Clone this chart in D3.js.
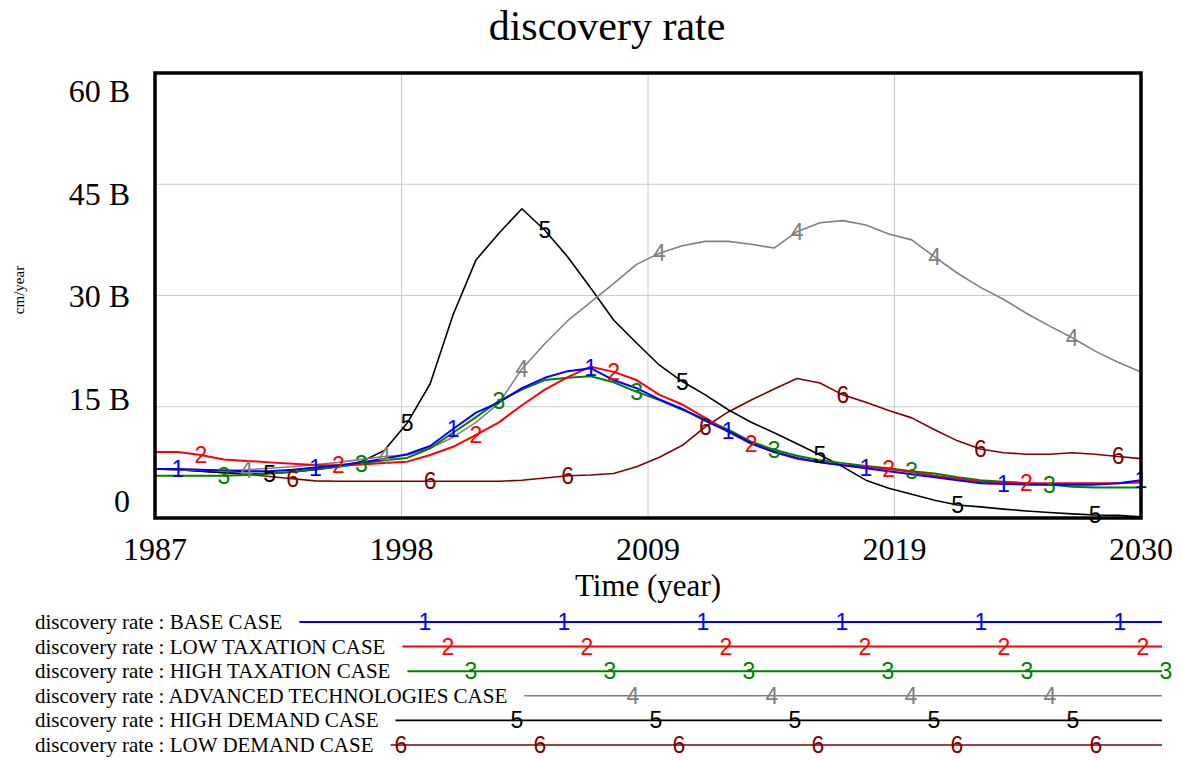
<!DOCTYPE html>
<html>
<head>
<meta charset="utf-8">
<style>
  body {
    margin: 0px;
    background-color: white;
  }
  svg {
    display: block;
  }
  text {
    font-family: "Liberation Serif", "Times New Roman", serif;
    fill: black;
  }
  text.mark {
    font-family: "Liberation Sans", Arial, sans-serif;
  }
</style>
<script src="https://cdn.jsdelivr.net/npm/d3@7"></script>
</head>
<body>
<svg></svg>
<script>
// data, in billions of cm/year, one value per year
const years = [1987, 1988, 1989, 1990, 1991, 1992, 1993, 1994, 1995, 1996,
  1997, 1998, 1999, 2000, 2001, 2002, 2003, 2004, 2005, 2006,
  2007, 2008, 2009, 2010, 2011, 2012, 2013, 2014, 2015, 2016,
  2017, 2018, 2019, 2020, 2021, 2022, 2023, 2024, 2025, 2026,
  2027, 2028, 2029, 2030];

const baseCase = [6.6, 6.6, 6.5, 6.4, 6.3, 6.3, 6.5, 6.8, 7.1, 7.5,
  8.0, 8.6, 9.7, 12.0, 14.2, 15.6, 17.5, 18.9, 19.8, 20.2,
  18.6, 17.5, 16.0, 14.7, 13.1, 11.7, 10.1, 8.9, 8.1, 7.5,
  7.1, 6.7, 6.3, 5.9, 5.5, 5.1, 4.7, 4.6, 4.5, 4.5,
  4.5, 4.5, 4.7, 5.1];
const lowTaxation = [8.9, 8.9, 8.5, 7.9, 7.7, 7.5, 7.3, 7.15, 7.1, 7.2,
  7.4, 7.6, 8.5, 9.6, 11.2, 12.9, 15.2, 17.3, 19.0, 20.4,
  19.7, 18.6, 16.6, 15.3, 13.5, 11.6, 10.0, 8.9, 8.0, 7.5,
  7.1, 6.9, 6.6, 6.2, 5.7, 5.3, 4.9, 4.8, 4.7, 4.7,
  4.7, 4.7, 4.7, 4.8];
const highTaxation = [5.7, 5.7, 5.7, 5.7, 5.8, 6.0, 6.2, 6.6, 6.9, 7.3,
  7.8, 8.1, 9.4, 11.5, 13.6, 15.8, 17.3, 18.6, 18.9, 19.1,
  18.3, 17.0, 15.9, 14.6, 13.3, 11.9, 10.3, 9.2, 8.4, 7.8,
  7.4, 7.0, 6.7, 6.3, 6.0, 5.5, 5.1, 4.9, 4.7, 4.5,
  4.2, 4.1, 4.1, 4.1];
const advancedTech = [6.6, 6.5, 6.4, 6.4, 6.5, 6.7, 6.9, 7.2, 7.5, 7.9,
  8.3, 8.5, 9.4, 10.9, 12.9, 15.5, 20.1, 23.5, 26.6, 29.1,
  31.6, 34.2, 35.7, 36.7, 37.3, 37.3, 36.9, 36.4, 38.6, 39.8,
  40.1, 39.5, 38.3, 37.5, 35.2, 33.0, 31.1, 29.5, 27.6, 25.9,
  24.3, 22.5, 21.0, 19.7];
const highDemand = [6.6, 6.5, 6.3, 6.1, 6.0, 6.0, 6.2, 6.5, 6.9, 7.6,
  9.1, 12.8, 18.1, 27.4, 34.8, 38.4, 41.7, 38.8, 35.2, 31.0,
  26.7, 23.6, 20.6, 18.4, 16.6, 14.6, 12.9, 11.5, 10.0, 8.5,
  6.9, 5.1, 4.0, 3.2, 2.4, 1.75, 1.5, 1.2, 0.95, 0.75,
  0.55, 0.4, 0.35, 0.15];
const lowDemand = [6.6, 6.5, 6.3, 6.1, 5.9, 5.6, 5.3, 5.0, 4.95, 4.95,
  4.95, 4.95, 4.95, 4.95, 4.95, 4.95, 5.1, 5.4, 5.7, 5.8,
  6.0, 6.9, 8.2, 9.8, 12.3, 14.3, 15.9, 17.4, 18.8, 18.2,
  16.6, 15.6, 14.5, 13.5, 11.9, 10.4, 9.3, 8.8, 8.6, 8.6,
  8.8, 8.6, 8.3, 8.0];

const seriesNames = ["BASE CASE", "LOW TAXATION CASE", "HIGH TAXATION CASE",
  "ADVANCED TECHNOLOGIES CASE", "HIGH DEMAND CASE", "LOW DEMAND CASE"];
const seriesValues = [baseCase, lowTaxation, highTaxation, advancedTech, highDemand, lowDemand];
const seriesColors = ["#0000ff", "#ff0000", "#008000", "#808080", "#000000", "#800000"];
const seriesWidths = [2, 2, 2, 1.6, 1.6, 1.6];

const xTickLabels = ["1987", "1998", "2009", "2019", "2030"];
const yTickLabels = ["60 B", "45 B", "30 B", "15 B", "0"];

const width = 1182, height = 760;
const plotLeft = 155, plotRight = 1141, plotTop = 73, plotBottom = 518;

const svg = d3.select("svg")
    .attr("width", width)
    .attr("height", height);

const x = d3.scaleLinear().domain([1987, 2030]).range([plotLeft, plotRight]);
const y = d3.scaleLinear().domain([0, 60]).range([plotBottom, plotTop]);

// grid: 4 equal intervals on both axes
const xGrid = d3.scaleLinear().domain([0, 4]).range([plotLeft, plotRight]);
const yGrid = d3.scaleLinear().domain([0, 4]).range([plotBottom, plotTop]);

svg.append("g").selectAll("line").data([1, 2, 3]).join("line")
    .attr("x1", d => xGrid(d)).attr("x2", d => xGrid(d))
    .attr("y1", plotTop).attr("y2", plotBottom)
    .attr("stroke", "#cccccc").attr("stroke-width", 1);
svg.append("g").selectAll("line").data([1, 2, 3]).join("line")
    .attr("y1", d => yGrid(d)).attr("y2", d => yGrid(d))
    .attr("x1", plotLeft).attr("x2", plotRight)
    .attr("stroke", "#cccccc").attr("stroke-width", 1);

// series lines
const line = d3.line()
    .x((d, i) => x(years[i]))
    .y(d => y(d));

const order = [5, 4, 3, 2, 1, 0];
order.forEach(function(s) {
  svg.append("path")
      .datum(seriesValues[s])
      .attr("d", line)
      .attr("fill", "none")
      .attr("stroke", seriesColors[s])
      .attr("stroke-width", seriesWidths[s])
      .attr("stroke-linejoin", "round");
});

// number markers every 6 years, offset by one year per series
order.forEach(function(s) {
  const marks = years.map((yr, i) => ({yr: yr, v: seriesValues[s][i]}))
      .filter(d => d.yr >= 1988 + s && (d.yr - 1988 - s) % 6 === 0);
  svg.append("g").selectAll("text").data(marks).join("text")
      .attr("class", "mark")
      .attr("x", d => x(d.yr))
      .attr("y", d => y(d.v))
      .attr("text-anchor", "middle")
      .attr("dominant-baseline", "central")
      .attr("font-size", 23)
      .style("fill", seriesColors[s])
      .text(s + 1);
});

// frame
svg.append("rect")
    .attr("x", plotLeft).attr("y", plotTop)
    .attr("width", plotRight - plotLeft).attr("height", plotBottom - plotTop)
    .attr("fill", "none")
    .attr("stroke", "black")
    .attr("stroke-width", 3.5);

// tick labels
svg.append("g").selectAll("text").data(xTickLabels).join("text")
    .attr("x", (d, i) => xGrid(i))
    .attr("y", 560)
    .attr("text-anchor", "middle")
    .attr("font-size", 32)
    .text(d => d);

const yLabelPos = d3.scaleLinear().domain([0, 4]).range([102, 512]);
svg.append("g").selectAll("text").data(yTickLabels).join("text")
    .attr("x", 130)
    .attr("y", (d, i) => yLabelPos(i))
    .attr("text-anchor", "end")
    .attr("font-size", 32)
    .text(d => d);

// titles
svg.append("text")
    .attr("x", 607)
    .attr("y", 40)
    .attr("text-anchor", "middle")
    .attr("font-size", 42)
    .text("discovery rate");

svg.append("text")
    .attr("x", (plotLeft + plotRight) / 2)
    .attr("y", 596)
    .attr("text-anchor", "middle")
    .attr("font-size", 31)
    .text("Time (year)");

svg.append("text")
    .attr("transform", "translate(24, 290) rotate(-90)")
    .attr("text-anchor", "middle")
    .attr("font-size", 15)
    .text("cm/year");

// legend
const legendEnd = 1162;
seriesNames.forEach(function(name, s) {
  const ly = 622 + s * 24.6;
  const label = svg.append("text")
      .attr("x", 35)
      .attr("y", ly + 7)
      .attr("font-size", 21)
      .text("discovery rate : " + name);
  const lineStart = 35 + label.node().getComputedTextLength() + 17;
  svg.append("line")
      .attr("x1", lineStart).attr("x2", legendEnd)
      .attr("y1", ly).attr("y2", ly)
      .attr("stroke", seriesColors[s])
      .attr("stroke-width", seriesWidths[s]);
  const pos = d3.range(-2, 7).map(n => 425 + 23 * s + 139 * n)
      .filter(p => p >= lineStart && p <= legendEnd + 6);
  svg.append("g").selectAll("text").data(pos).join("text")
      .attr("class", "mark")
      .attr("x", d => d)
      .attr("y", ly)
      .attr("text-anchor", "middle")
      .attr("dominant-baseline", "central")
      .attr("font-size", 23)
      .style("fill", seriesColors[s])
      .text(s + 1);
});
</script>
</body>
</html>
